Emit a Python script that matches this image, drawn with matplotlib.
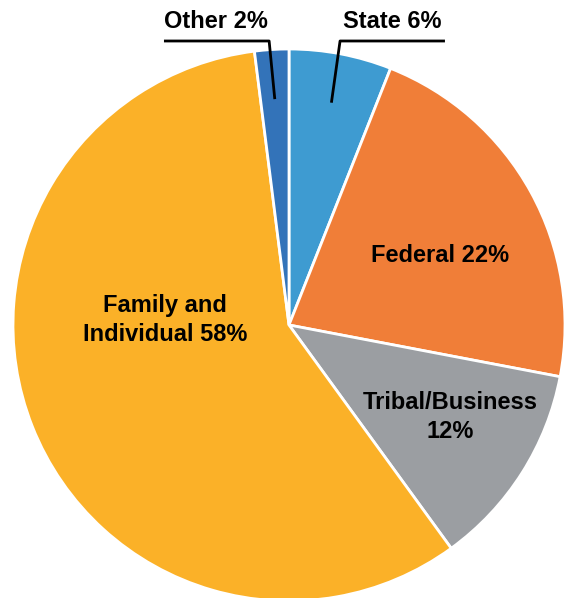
import numpy as np
import matplotlib.pyplot as plt

labels = ["State 6%", "Federal 22%", "Tribal/Business\n12%", "Family and\nIndividual 58%", "Other 2%"]
shares = [6, 22, 12, 58, 2]
colors = ["#3e9bd1", "#f07e38", "#9b9ea2", "#fbb128", "#3373b9"]

plt.rcParams['font.family'] = ['Liberation Sans', 'DejaVu Sans']

fig = plt.figure(figsize=(5.66, 5.98), dpi=100)
ax = fig.add_axes([0, 0, 1, 1])

wedges, _ = ax.pie(shares, colors=colors, startangle=90, counterclock=False,
                   radius=1.0, wedgeprops=dict(edgecolor='white', linewidth=2))

# pie resets limits, so fix them afterwards (276 px per unit, centre at 289,325)
R = 276.0
ax.set_xlim(-289 / R, (566 - 289) / R)
ax.set_ylim(-(598 - 325) / R, 325 / R)
ax.set_aspect('equal')
ax.axis('off')

fs = 17
# labels inside
ax.text(0.547, 0.25, labels[1], ha='center', va='center', fontsize=fs, fontweight='bold')
ax.text(0.583, -0.333, labels[2], ha='center', va='center', fontsize=fs, fontweight='bold',
        linespacing=1.35)
ax.text(-0.449, 0.018, labels[3], ha='center', va='center', fontsize=fs, fontweight='bold',
        linespacing=1.35)

# outside labels with underline + leader
def mid_point(w, r=0.82):
    a = np.deg2rad((w.theta1 + w.theta2) / 2)
    return r * np.cos(a), r * np.sin(a)

uy = 1.029
# State
ax.text(0.375, 1.098, labels[0], ha='center', va='center', fontsize=fs, fontweight='bold')
px, py = mid_point(wedges[0])
ax.plot([0.565, 0.185, px], [uy, uy, py], color='black', lw=2, solid_capstyle='butt')
# Other
ax.text(-0.264, 1.098, labels[4], ha='center', va='center', fontsize=fs, fontweight='bold')
px, py = mid_point(wedges[4])
ax.plot([-0.453, -0.072, px], [uy, uy, py], color='black', lw=2, solid_capstyle='butt')

fig.savefig('out.png', dpi=100)
